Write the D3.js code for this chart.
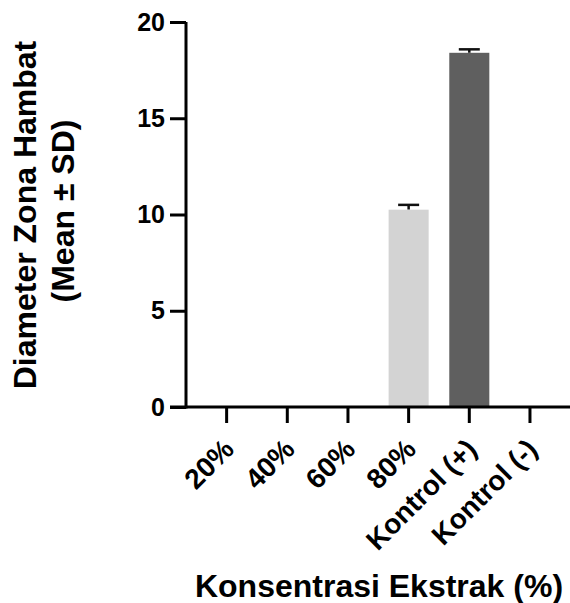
<!DOCTYPE html>
<html>
<head>
<meta charset="utf-8">
<script src="https://cdn.jsdelivr.net/npm/d3@7"></script>
<style>
  html, body { margin: 0; padding: 0; background: #fff; }
  svg { display: block; }
  text { font-family: "Liberation Sans", Arial, Helvetica, sans-serif; font-weight: bold; fill: #000; }
</style>
</head>
<body>
<svg id="chart" width="570" height="603"></svg>
<script>
// Data
const categories = ["20%", "40%", "60%", "80%", "Kontrol (+)", "Kontrol (-)"];
const means = [0, 0, 0, 10.25, 18.4, 0];
const sds = [0, 0, 0, 0.25, 0.18, 0];
const barColors = ["#d3d3d3", "#d3d3d3", "#d3d3d3", "#d3d3d3", "#5f5f5f", "#d3d3d3"];
const yTicks = [0, 5, 10, 15, 20];
const yTitleLines = ["Diameter Zona Hambat", "(Mean \u00b1 SD)"];
const xTitle = "Konsentrasi Ekstrak (%)";

const svg = d3.select("#chart");

const x = d3.scaleBand()
  .domain(categories)
  .range([196.3, 560.3])
  .paddingInner(0.34)
  .paddingOuter(0.17);

const y = d3.scaleLinear().domain([0, 20]).range([407, 22]);

const data = categories.map((c, i) => ({ c, m: means[i], sd: sds[i], col: barColors[i] }));

// Error bars (drawn first, bar covers lower half)
const eb = svg.append("g");
data.filter(d => d.sd > 0).forEach(d => {
  const cx = x(d.c) + x.bandwidth() / 2;
  eb.append("line").attr("x1", cx).attr("x2", cx)
    .attr("y1", y(d.m)).attr("y2", y(d.m + d.sd))
    .attr("stroke", "#111").attr("stroke-width", 2.5);
  eb.append("line").attr("x1", cx - 10.5).attr("x2", cx + 10.5)
    .attr("y1", y(d.m + d.sd)).attr("y2", y(d.m + d.sd))
    .attr("stroke", "#111").attr("stroke-width", 2.5);
});

// Bars
svg.append("g").selectAll("rect")
  .data(data.filter(d => d.m > 0))
  .join("rect")
  .attr("x", d => x(d.c))
  .attr("width", x.bandwidth())
  .attr("y", d => y(d.m))
  .attr("height", d => y(0) - y(d.m))
  .attr("fill", d => d.col);

// Y axis
const yAxis = d3.axisLeft(y).tickValues(yTicks).tickSize(16).tickPadding(5).tickFormat(d3.format("d"));
const gy = svg.append("g").attr("transform", "translate(186,0)").call(yAxis);
gy.select(".domain").attr("d", `M0,${y(20)}V${y(0) + 1.5}`).attr("stroke", "#000").attr("stroke-width", 3);
gy.selectAll(".tick line").attr("stroke", "#000").attr("stroke-width", 3);
gy.selectAll(".tick text").style("font-size", "25px").style("font-family", "'Liberation Sans', Arial, sans-serif").style("font-weight", "bold").attr("fill", "#000");

// X axis
const xAxis = d3.axisBottom(x).tickSize(16).tickFormat("");
const gx = svg.append("g").attr("transform", `translate(0,${y(0)})`).call(xAxis);
gx.select(".domain").attr("d", "M170,0H572").attr("stroke", "#000").attr("stroke-width", 3);
gx.selectAll(".tick line").attr("stroke", "#000").attr("stroke-width", 3);

// Rotated x labels
svg.append("g").selectAll("text")
  .data(categories)
  .join("text")
  .attr("transform", d => `translate(${x(d) + x.bandwidth() / 2 + 9},${451}) rotate(-45)`)
  .attr("text-anchor", "end")
  .style("font-size", "28px")
  .text(d => d);

// Y title
const yTitleX = [36, 74];
const yTitleY = [215, 211];
yTitleLines.forEach((t, i) => {
  svg.append("text")
    .attr("transform", `translate(${yTitleX[i]},${yTitleY[i]}) rotate(-90)`)
    .attr("text-anchor", "middle")
    .style("font-size", "32px")
    .text(t);
});

// X title
svg.append("text")
  .attr("x", 379).attr("y", 597)
  .attr("text-anchor", "middle")
  .style("font-size", "32px")
  .text(xTitle);
</script>
</body>
</html>
